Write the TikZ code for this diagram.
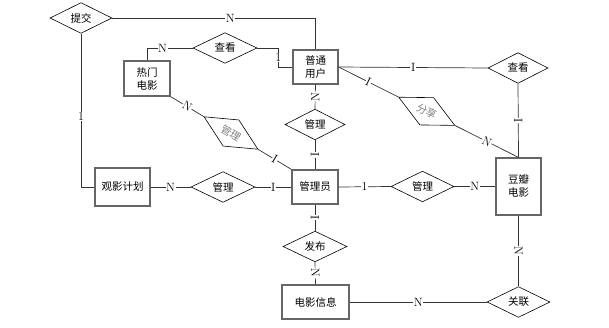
\documentclass[tikz,border=0pt]{standalone}
\usepackage{fontspec}
\newfontfamily\cjk{Noto Sans CJK SC}
\usetikzlibrary{positioning,shapes.geometric}

\tikzset{
  ent/.style={draw=black!60,line width=1.2pt,font=\cjk\fontsize{10.5}{13}\selectfont,align=center,inner sep=0pt},
  rel/.style={diamond,draw,line width=0.6pt,font=\cjk\fontsize{10.5}{13}\selectfont,inner sep=0pt,minimum width=62pt,minimum height=29pt},
  card/.style={fill=white,inner sep=0.6pt,font=\fontsize{12}{12}\selectfont},
  link/.style={draw=black!80,line width=0.7pt}
}

\begin{document}
\begin{tikzpicture}[x=1pt,y=-1pt]
\useasboundingbox (0,0) rectangle (609,327);

\node[rel] (R1) at (81,18) {提交};

\node[ent,minimum width=46pt,minimum height=35pt] (E1) at (147,78.5) {热门\\电影};

\node[rel,minimum width=64pt] (R2) at (225,48) {查看};

\node[ent,minimum width=45pt,minimum height=34pt] (E2) at (315.5,67) {普通\\用户};

\node[rel,minimum width=60pt] (R3) at (518,68) {查看};

\node[rel,minimum width=60pt] (R4) at (315,124.5) {管理};

\node[ent,minimum width=46pt,minimum height=34pt] (E3) at (315,187) {管理员};

\node[ent,minimum width=55pt,minimum height=38pt] (E4) at (122.5,187) {观影计划};

\node[rel,minimum width=64pt,minimum height=30pt] (R5) at (223,187) {管理};

\node[rel,minimum width=63pt] (R6) at (422.5,186.5) {管理};

\node[ent,minimum width=45pt,minimum height=57pt] (E5) at (518.5,186.5) {豆瓣\\电影};

\node[rel,minimum width=64pt] (R7) at (315,246.5) {发布};

\node[ent,minimum width=67pt,minimum height=34pt] (E6) at (315.5,302) {电影信息};

\node[rel,minimum width=63pt,minimum height=30pt] (R8) at (518.5,302) {关联};

\path (E1.south east) -- node[rel,sloped,text=gray,minimum width=63pt,minimum height=28pt] (R9) {管理} (E3.north west);

\path (E2.east) -- node[rel,sloped,pos=0.49,text=gray,minimum width=63pt,minimum height=29pt] (R10) {分享} (E5.north);

\draw[link] (R1.east) -| node[card,pos=0.29] {N} (E2.north);

\draw[link] (R1.south) |- node[card,pos=0.27] {1} (E4.west);

\draw[link] (E1.north) |- node[card,pos=0.67] {N} (R2.west);

\draw[link] (R2.east) -- ++(21,0) |- node[card,pos=0.25] {1} (E2.west);

\draw[link] (E2.east) -- node[card] {I} (R3.west);

\draw[link] (R3.south) -- node[card,sloped] {I} (E5.north);

\draw[link] (E2.south) -- node[card,sloped] {N} (R4.north);

\draw[link] (R4.south) -- node[card,sloped] {I} (E3.north);

\draw[link] (E2.east) -- node[card,sloped] {I} (R10);

\draw[link] (R10) -- node[card,sloped] {N} (E5.north);

\draw[link] (E1.south east) -- node[card,sloped] {N} (R9);

\draw[link] (R9) -- node[card,sloped] {I} (E3.north west);

\draw[link] (E4.east) -- node[card] {N} (R5.west);

\draw[link] (R5.east) -- node[card] {I} (E3.west);

\draw[link] (E3.east) -- node[card] {1} (R6.west);

\draw[link] (R6.east) -- node[card] {N} (E5.west);

\draw[link] (E3.south) -- node[card,sloped] {I} (R7.north);

\draw[link] (R7.south) -- node[card,sloped] {N} (E6.north);

\draw[link] (E6.east) -- node[card] {N} (R8.west);

\draw[link] (E5.south) -- node[card,sloped] {N} (R8.north);

\end{tikzpicture}
\end{document}
